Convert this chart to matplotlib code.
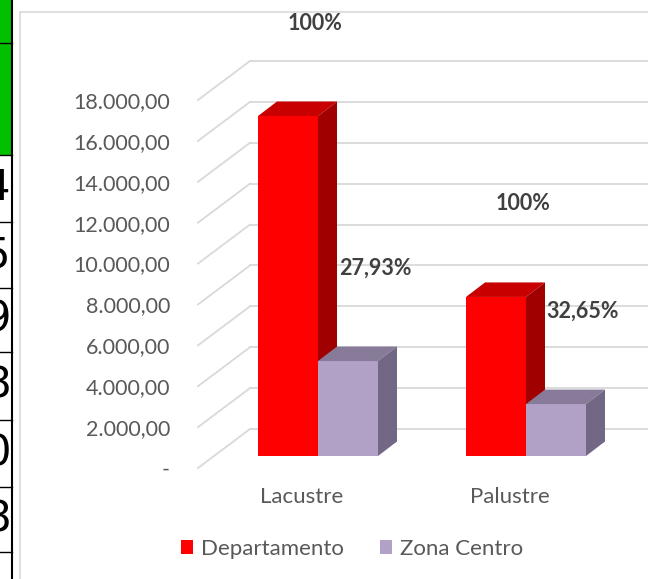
import matplotlib
matplotlib.use('Agg')
import matplotlib.pyplot as plt
from matplotlib.patches import Polygon, Rectangle, Patch
import numpy as np

plt.rcParams['font.family'] = ['Lato', 'DejaVu Sans']

# data
categories = ['Lacustre', 'Palustre']
series_names = ['Departamento', 'Zona Centro']
departamento = [16630, 7780]
zona_centro = [4645, 2540]
dep_labels = ['100%', '100%']
zona_labels = ['27,93%', '32,65%']
ticks = list(range(0, 18001, 2000))
tick_labels = ['-'] + ['{:,.2f}'.format(t).replace(',', 'X').replace('.', ',').replace('X', '.') for t in ticks[1:]]
left_cells = ['4', '5', '9', '8', '0', '8']

W, H = 648, 579
fig = plt.figure(figsize=(W / 100, H / 100), dpi=100)

# the spreadsheet strip on the far left
fig.patches.append(Rectangle((0, 1 - 155 / H), 11.5 / W, 155 / H, transform=fig.transFigure,
                             facecolor='#00C000', edgecolor='none'))
fig.lines.append(plt.Line2D([11.5 / W, 11.5 / W], [0, 1], transform=fig.transFigure, color='black', lw=1.5))
borders = [43, 155, 222, 288, 352, 420, 487, 552]
for b in borders:
    fig.lines.append(plt.Line2D([0, 11.5 / W], [1 - b / H] * 2, transform=fig.transFigure, color='black', lw=1))
for i, d in enumerate(left_cells):
    yc = (borders[i + 1] + borders[i + 2]) / 2
    fig.text(10.5 / W, 1 - yc / H, d, ha='right', va='center', fontsize=30,
             family='DejaVu Sans', color='black')

# chart frame
fig.patches.append(Rectangle((20 / W, -0.1), 1.2, (H - 12) / H + 0.1, transform=fig.transFigure,
                             facecolor='none', edgecolor='#D9D9D9', lw=1.2, zorder=-1))

# axes in the plane of the bars
ax = fig.add_axes([214 / W, 123 / H, 434 / W, 368 / H])
ax.set_xlim(-0.5, -0.5 + 434 / 208)
ax.set_ylim(0, 18000)
ax.axis('off')
ux = (ax.get_xlim()[1] - ax.get_xlim()[0]) / 434
uy = 18000 / 368

front = (-16 * ux, -12 * uy)
back = (36 * ux, 27 * uy)
depth = (19 * ux, 14.5 * uy)
x0 = ax.get_xlim()[0]
grid_c = '#D9D9D9'

for t, lab in zip(ticks, tick_labels):
    ax.plot([x0 + back[0], 3], [t + back[1]] * 2, color=grid_c, lw=1.3, clip_on=False, zorder=1)
    ax.plot([x0 + front[0], x0 + back[0]], [t + front[1], t + back[1]], color=grid_c, lw=1.3,
            clip_on=False, zorder=1)
    ax.text(x0 + front[0] - 28 * ux, t + front[1] - 2 * uy, lab, ha='right', va='center',
            fontsize=15.5, color='#595959')

x = np.arange(len(categories))
bw = 60 / 208
colors = {'Departamento': ('#FF0000', '#C80000', '#A00000'),
          'Zona Centro': ('#B2A1C7', '#877B99', '#726886')}

z = 3
for i in range(len(categories)):
    for name, vals, off in [('Departamento', departamento, -bw / 2), ('Zona Centro', zona_centro, bw / 2)]:
        fc, tc, sc = colors[name]
        r = ax.bar(x[i] + off, vals[i], bw, color=fc, zorder=z)[0]
        xl, xr, top = r.get_x(), r.get_x() + r.get_width(), r.get_height()
        dx, dy = depth
        ax.add_patch(Polygon([(xl, top), (xr, top), (xr + dx, top + dy), (xl + dx, top + dy)],
                             closed=True, facecolor=tc, edgecolor='none', zorder=z))
        ax.add_patch(Polygon([(xr, 0), (xr + dx, dy), (xr + dx, top + dy), (xr, top)],
                             closed=True, facecolor=sc, edgecolor='none', zorder=z))
        z += 1

for i in range(len(categories)):
    for vals, labs, off in [(departamento, dep_labels, -bw / 2), (zona_centro, zona_labels, bw / 2)]:
        ax.annotate(labs[i], (x[i] + off, vals[i]), xytext=(27, 93), textcoords='offset pixels',
                    ha='center', va='center', fontsize=15.5, fontweight='bold', color='#404040',
                    annotation_clip=False, zorder=20)

for i, c in enumerate(categories):
    ax.text(x[i] + front[0], -41 * uy, c, ha='center', va='center', fontsize=16, color='#595959')

handles = [Patch(facecolor=colors[n][0], edgecolor='none') for n in series_names]
fig.legend(handles, series_names, loc='center', bbox_to_anchor=(352 / W, 30 / H), ncol=2,
           frameon=False, fontsize=16, handlelength=0.55, handleheight=0.55, handletextpad=0.35,
           columnspacing=1.6, labelcolor='#595959')

fig.savefig('out.png', dpi=100)
